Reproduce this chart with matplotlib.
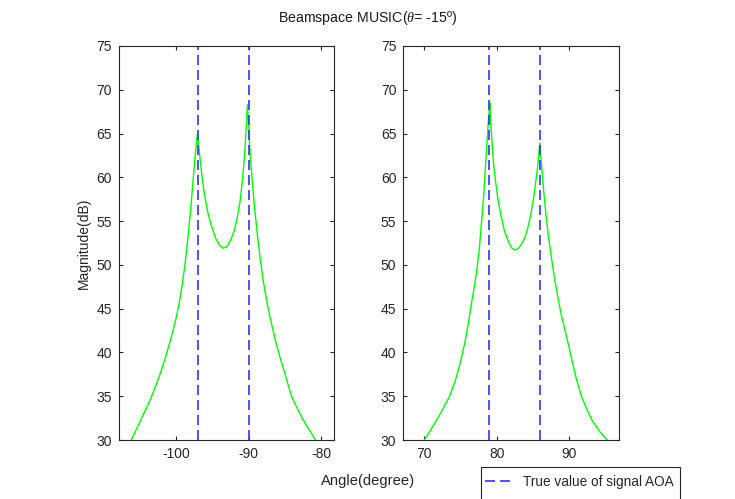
import matplotlib
matplotlib.use("Agg")
import matplotlib.pyplot as plt
from matplotlib.lines import Line2D
from matplotlib.patches import Rectangle

plt.rcParams['font.family'] = ['Liberation Sans', 'DejaVu Sans']
plt.rcParams['mathtext.fontset'] = 'custom'
plt.rcParams['mathtext.it'] = 'Liberation Serif:italic'
plt.rcParams['axes.unicode_minus'] = False

# Left panel spectrum (angle in degrees, magnitude in dB)
left_angle = [-106.2, -105.4, -104.6, -103.8, -103.0, -102.2, -101.5, -100.8, -100.1,
              -99.6, -99.2, -98.8, -98.4, -98.0, -97.7, -97.4, -97.2, -97.06,
              -96.9, -96.7, -96.4, -96.1, -95.7, -95.2, -94.6, -94.0, -93.5,
              -93.0, -92.5, -92.0, -91.6, -91.2, -90.9, -90.6, -90.4, -90.17,
              -90.0, -89.8, -89.5, -89.2, -88.8, -88.4, -88.0, -87.5, -87.0,
              -86.3, -85.6, -84.8, -84.1, -83.3, -82.5, -81.6, -80.8]
left_mag = [30.0, 31.4, 32.8, 34.2, 35.8, 37.6, 39.4, 41.4, 43.6,
            45.6, 47.6, 50.0, 53.0, 56.4, 59.4, 62.4, 64.0, 65.0,
            63.6, 62.0, 59.8, 58.0, 56.2, 54.6, 53.1, 52.2, 51.9,
            52.1, 52.8, 53.9, 55.3, 57.2, 59.4, 62.2, 64.8, 68.3,
            65.5, 62.6, 59.4, 56.6, 53.4, 50.6, 48.2, 45.8, 43.8,
            41.3, 39.2, 37.0, 35.0, 33.6, 32.3, 31.1, 30.0]

# Right panel spectrum
right_angle = [70.0, 71.0, 72.0, 72.8, 73.5, 74.3, 75.0, 75.6, 76.1, 76.6,
               77.2, 77.6, 77.9, 78.2, 78.4, 78.6, 78.8, 78.95, 79.06,
               79.2, 79.4, 79.6, 79.9, 80.2, 80.6, 81.1, 81.7, 82.1, 82.5,
               82.9, 83.4, 83.9, 84.3, 84.7, 85.1, 85.4, 85.7, 85.96,
               86.2, 86.5, 86.8, 87.1, 87.5, 88.0, 88.5, 88.95, 89.5, 90.0,
               90.5, 91.0, 91.7, 92.4, 93.2, 94.2, 95.24]
right_mag = [30.0, 31.3, 32.7, 33.9, 35.0, 36.8, 38.9, 41.1, 43.4, 46.0,
             49.0, 51.8, 54.8, 57.8, 60.5, 63.2, 65.8, 67.4, 68.5,
             66.0, 63.4, 61.3, 59.2, 57.4, 55.6, 53.8, 52.5, 51.9, 51.7,
             51.8, 52.3, 53.1, 54.2, 55.7, 57.6, 59.5, 61.5, 63.9,
             61.4, 58.4, 55.8, 53.6, 51.2, 48.4, 46.1, 44.2, 42.3, 40.6,
             38.7, 37.0, 35.0, 33.6, 32.2, 31.0, 30.0]

# True signal AOAs
left_aoa = [-97.0, -90.0]
right_aoa = [79.0, 86.0]

left_xticks = [-100, -90, -80]
right_xticks = [70, 80, 90]
yticks = [30, 35, 40, 45, 50, 55, 60, 65, 70, 75]

W, H = 735, 499
fig = plt.figure(figsize=(W / 100, H / 100), dpi=100)

axc = (0.15, 0.15, 0.15)

def px_ax(x0, x1, y0, y1):
    return fig.add_axes([x0 / W, 1 - y1 / H, (x1 - x0) / W, (y1 - y0) / H])

axL = px_ax(119, 333.5, 46, 440)
axR = px_ax(403.3, 619, 46, 440)

dash = (6.0, 3.0)
blue = (0.2, 0.2, 1.0)
for ax, xa, ya, aoa, xt, xlim in [
        (axL, left_angle, left_mag, left_aoa, left_xticks, (-107.9, -78.3)),
        (axR, right_angle, right_mag, right_aoa, right_xticks, (67.1, 96.9))]:
    ax.plot(xa, ya, color=(0, 1, 0), lw=1.0)
    for a in aoa:
        ax.axvline(a, color=blue, lw=1.2, dashes=dash)
    ax.set_xlim(*xlim)
    ax.set_ylim(30, 75)
    ax.set_xticks(xt)
    ax.set_yticks(yticks)
    ax.tick_params(direction='in', length=3, width=0.8, colors=axc,
                   labelsize=10, top=True, right=True, pad=5)
    for s in ax.spines.values():
        s.set_color(axc)
        s.set_linewidth(0.8)

axL.set_ylabel('Magnitude(dB)', fontsize=10, color=axc, labelpad=4)
fig.text(368 / W, 1 - 481 / H, 'Angle(degree)', ha='center', va='center',
         fontsize=10.6, color=axc)
fig.text(368 / W, 1 - 18 / H, r'Beamspace MUSIC($\theta$= -15º)', ha='center',
         va='center', fontsize=10.2, color=(0.1, 0.1, 0.1))

# Legend frame (extends past the bottom edge of the figure, as in the original)
fig.patches.append(Rectangle((481 / W, 1 - 510 / H), 199 / W, 43 / H,
                             transform=fig.transFigure, facecolor='white',
                             edgecolor=axc, linewidth=0.8, zorder=5))
h = Line2D([], [], color=blue, lw=1.2, dashes=dash)
leg = fig.legend([h], ['True value of signal AOA'], loc='center left',
                 bbox_to_anchor=(485 / W, 1 - 481.7 / H), frameon=False,
                 fontsize=9.8, handlelength=2.2, borderpad=0, borderaxespad=0,
                 handletextpad=0.6)
leg.set_zorder(6)
for t in leg.get_texts():
    t.set_color(axc)

fig.savefig('out.png', dpi=100)
